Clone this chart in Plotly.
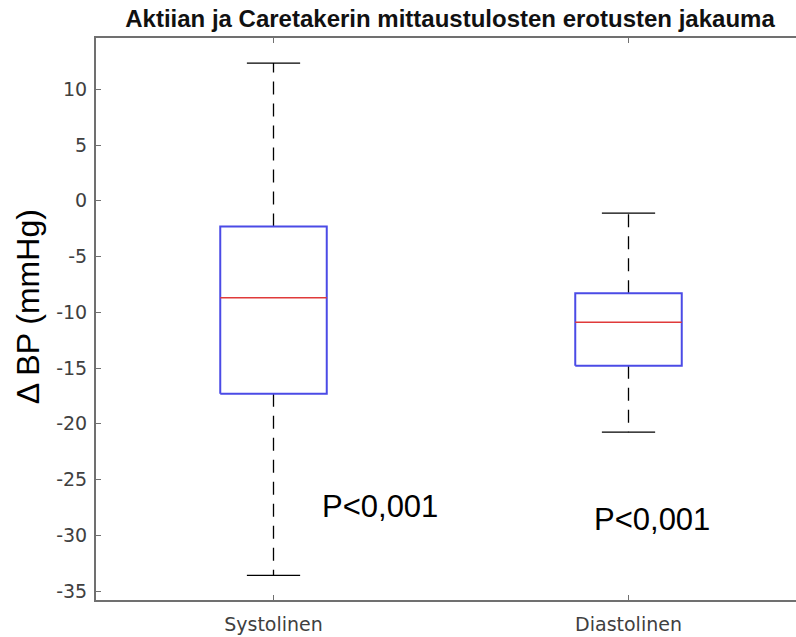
import plotly.graph_objects as go

categories = ["Systolinen", "Diastolinen"]
positions = [1, 2]
q1 = [-17.3, -14.8]
median = [-8.7, -10.9]
q3 = [-2.3, -8.3]
lower_whisker = [-33.6, -20.75]
upper_whisker = [12.35, -1.1]
p_labels = ["P<0,001", "P<0,001"]

BOX_HALF = 0.15
CAP_HALF = 0.075

fig = go.Figure()

for i, x in enumerate(positions):
    # whiskers (dashed)
    fig.add_trace(go.Scatter(x=[x, x, None, x, x],
                             y=[q3[i], upper_whisker[i], None, q1[i], lower_whisker[i]],
                             mode="lines", line=dict(color="black", width=1.3, dash="13px,9px"),
                             hoverinfo="skip", showlegend=False))
    # caps
    fig.add_trace(go.Scatter(x=[x - CAP_HALF, x + CAP_HALF, None, x - CAP_HALF, x + CAP_HALF],
                             y=[upper_whisker[i], upper_whisker[i], None, lower_whisker[i], lower_whisker[i]],
                             mode="lines", line=dict(color="black", width=1.3),
                             hoverinfo="skip", showlegend=False))
    # box
    fig.add_trace(go.Scatter(x=[x - BOX_HALF, x + BOX_HALF, x + BOX_HALF, x - BOX_HALF, x - BOX_HALF],
                             y=[q1[i], q1[i], q3[i], q3[i], q1[i]],
                             mode="lines", line=dict(color="#4b4be6", width=2),
                             hoverinfo="skip", showlegend=False))
    # median
    fig.add_trace(go.Scatter(x=[x - BOX_HALF, x + BOX_HALF], y=[median[i], median[i]],
                             mode="lines", line=dict(color="#e03a3a", width=1.5),
                             hoverinfo="skip", showlegend=False))

fig.add_annotation(x=1.30, y=-27.4, xref="x", yref="y", text=p_labels[0], showarrow=False,
                   font=dict(family="Liberation Sans, Arial", size=31, color="black"))
fig.add_annotation(x=2.066, y=-28.6, xref="x", yref="y", text=p_labels[1], showarrow=False,
                   font=dict(family="Liberation Sans, Arial", size=31, color="black"))

fig.add_annotation(x=-(96 - 27.5) / 700, y=1 - (306.7 - 38) / 562, xref="paper", yref="paper",
                   text="Δ BP (mmHg)", textangle=-90, showarrow=False,
                   xanchor="center", yanchor="middle",
                   font=dict(family="Liberation Sans, Arial", size=32, color="black"))

fig.update_layout(
    width=796, height=637,
    margin=dict(l=96, r=0, t=38, b=37),
    paper_bgcolor="white", plot_bgcolor="white",
    title=dict(text="<b>Aktiian ja Caretakerin mittaustulosten erotusten jakauma</b>",
               x=450 / 796, xanchor="center",
               y=1 - 18.5 / 637, yanchor="middle", yref="container",
               font=dict(family="Liberation Sans, Arial", size=24, color="#111111")),
    font=dict(family="DejaVu Sans", color="#404040"),
)

fig.update_xaxes(range=[0.5, 0.5 + 700 / 355], tickvals=positions, ticktext=categories,
                 showgrid=False, zeroline=False, showline=True, linecolor="#707070", linewidth=2,
                 mirror="ticks", ticks="inside", ticklen=5, tickcolor="#707070",
                 ticklabelstandoff=6,
                 tickfont=dict(family="DejaVu Sans", size=19, color="#404040"))
fig.update_yaxes(range=[-35.8, 14.6], tickvals=[10, 5, 0, -5, -10, -15, -20, -25, -30, -35],
                 ticktext=["10", "5", "0", "-5", "-10", "-15", "-20", "-25", "-30", "-35"],
                 showgrid=False, zeroline=False, showline=True, linecolor="#707070", linewidth=2,
                 ticks="inside", ticklen=5, tickcolor="#707070",
                 ticklabelstandoff=3,
                 tickfont=dict(family="DejaVu Sans", size=19, color="#404040"))

fig.write_html("out.html")
